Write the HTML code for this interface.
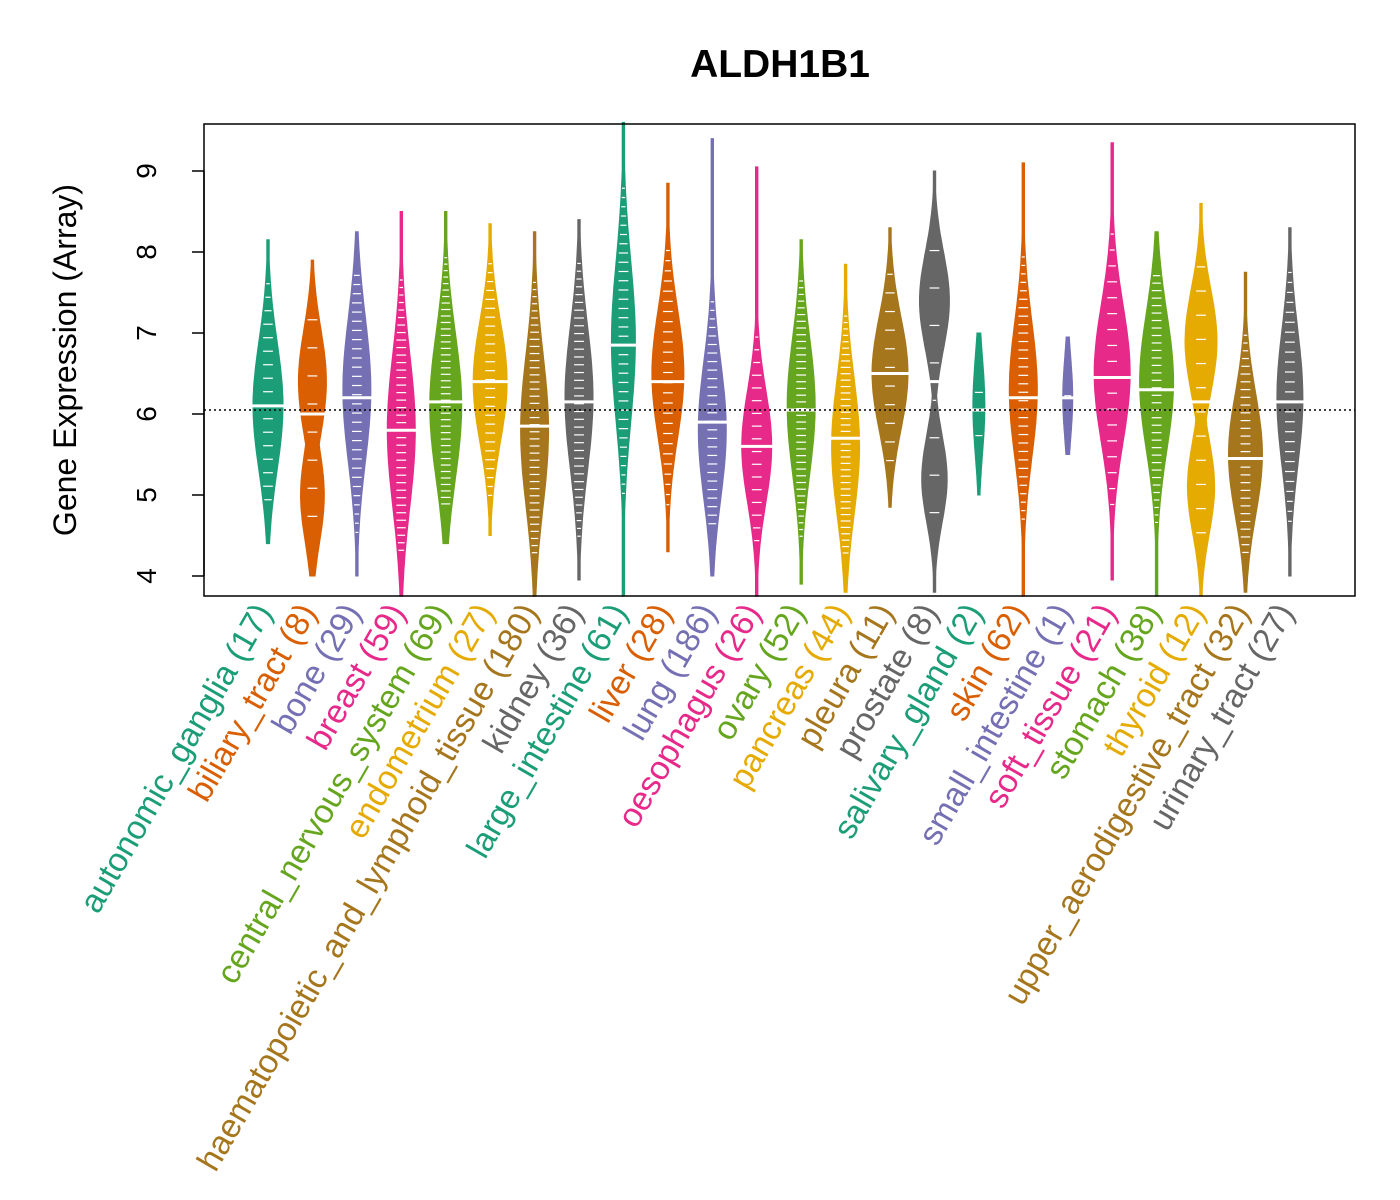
<!DOCTYPE html>
<html><head><meta charset="utf-8"><style>
html,body{margin:0;padding:0;background:#fff;}
svg{display:block;font-family:"Liberation Sans",Arial,sans-serif;}
</style></head><body>
<svg id="chart" width="1400" height="1200" viewBox="0 0 1400 1200">
<text x="780" y="77" text-anchor="middle" font-size="39" font-weight="bold">ALDH1B1</text>
<text transform="translate(76,360) rotate(-90)" text-anchor="middle" font-size="32">Gene Expression (Array)</text>
<g id="beans"></g>
<rect x="204" y="124" width="1151" height="472" fill="none" stroke="#000" stroke-width="1.5"/>
<g id="yaxis"></g>
<g id="xlabels"></g>
</svg>
<script>
const categories=["autonomic_ganglia","biliary_tract","bone","breast","central_nervous_system","endometrium","haematopoietic_and_lymphoid_tissue","kidney","large_intestine","liver","lung","oesophagus","ovary","pancreas","pleura","prostate","salivary_gland","skin","small_intestine","soft_tissue","stomach","thyroid","upper_aerodigestive_tract","urinary_tract"];
const counts=[17,8,29,59,69,27,180,36,61,28,186,26,52,44,11,8,2,62,1,21,38,12,32,27];
const mins=[4.4,4.0,4.0,3.75,4.4,4.5,3.75,3.95,3.75,4.3,4.0,3.75,3.9,3.8,4.85,3.8,5.0,3.75,5.5,3.95,3.75,3.75,3.8,4.0];
const maxs=[8.15,7.9,8.25,8.5,8.5,8.35,8.25,8.4,9.6,8.85,9.4,9.05,8.15,7.85,8.3,9.0,7.0,9.1,6.95,9.35,8.25,8.6,7.75,8.3];
const medians=[6.1,6.0,6.2,5.8,6.15,6.4,5.85,6.15,6.85,6.4,5.9,5.6,6.05,5.7,6.5,6.4,6.05,6.2,6.2,6.45,6.3,6.15,5.45,6.15];
const peaks=[6.1,6.4,6.3,5.8,6.1,6.4,5.8,6.2,6.9,6.5,5.8,5.6,6.1,5.6,6.5,7.4,6.1,6.3,6.2,6.5,6.4,6.9,5.5,6.2];
const peaks2=[null,5.0,null,null,null,null,null,null,null,null,null,null,null,null,null,5.2,null,null,null,null,null,5.1,null,null];
const spreads=[0.8,0.65,0.9,0.95,0.9,0.75,0.95,0.9,1.0,0.8,0.85,0.7,0.85,0.85,0.7,0.6,0.6,0.85,0.5,0.85,0.85,0.65,0.75,0.85];
const widths=[15,14,14,14,16,17,14,14,12,16,14,15,14,14,18,15,6,14,5,18,17,16,17,13];
const colors=["#1B9E77","#D95F02","#7570B3","#E7298A","#66A61E","#E6AB02","#A6761D","#666666"];
const overallMean=6.05;
const yTicks=[4,5,6,7,8,9];

const ns="http://www.w3.org/2000/svg";
const yS=v=>576-(v-4)*81;
const xS=i=>268+i*44.43;
const beans=document.getElementById('beans');
function mk(t,a,p){const e=document.createElementNS(ns,t);for(const k in a)e.setAttribute(k,a[k]);p.appendChild(e);return e;}

categories.forEach((c,i)=>{
  const col=colors[i%8],cx=xS(i);
  const prof=v=>{let d=Math.exp(-Math.pow(v-peaks[i],2)/(2*spreads[i]*spreads[i]));
    if(peaks2[i]!==null)d=Math.max(d,0.85*Math.exp(-Math.pow(v-peaks2[i],2)/(2*spreads[i]*spreads[i]*0.8)));
    return Math.max(d*widths[i],1.2);};
  const steps=60;let L=[],R=[];
  for(let k=0;k<=steps;k++){const v=mins[i]+(maxs[i]-mins[i])*k/steps;const w=prof(v);
    R.push((cx+w).toFixed(1)+","+yS(v).toFixed(1));L.unshift((cx-w).toFixed(1)+","+yS(v).toFixed(1));}
  const g=mk('g',{},beans);
  
  
  mk('polygon',{points:R.concat(L).join(' '),fill:col,stroke:col,'stroke-width':1},g);
  const nT=Math.min(counts[i],40);
  for(let k=1;k<=nT;k++){const v=mins[i]+(maxs[i]-mins[i])*(0.1+0.8*k/(nT+1));const w=Math.min(prof(v),7);
    if(w>2)mk('line',{x1:cx-w*0.7,x2:cx+w*0.7,y1:yS(v),y2:yS(v),stroke:'#fff','stroke-width':1.2},g);}
  const mw=prof(medians[i])+2;
  const m=mk('line',{x1:cx-mw,x2:cx+mw,y1:yS(medians[i]),y2:yS(medians[i]),stroke:'#fff','stroke-width':3},g);
  
  
});
const ml=mk('line',{x1:204,x2:1355,y1:yS(overallMean),y2:yS(overallMean),stroke:'#000','stroke-width':1.5,'stroke-dasharray':'2,3'},beans);



const ya=document.getElementById('yaxis');
yTicks.forEach(t=>{
  mk('line',{x1:192,x2:204,y1:yS(t),y2:yS(t),stroke:'#000','stroke-width':1.5},ya);
  const tx=mk('text',{transform:`translate(156,${yS(t)}) rotate(-90)`,'text-anchor':'middle','font-size':28},ya);
  tx.textContent=t;
  
  
});
mk('line',{x1:204,x2:204,y1:yS(4),y2:yS(9),stroke:'#000','stroke-width':1.5},ya);

const xl=document.getElementById('xlabels');
categories.forEach((c,i)=>{
  const tx=mk('text',{transform:`translate(${xS(i)+5},${612}) rotate(-60)`,'text-anchor':'end','font-size':33.5,fill:colors[i%8]},xl);
  tx.textContent=c+" ("+counts[i]+")";
  
  
});
</script>
</body></html>
